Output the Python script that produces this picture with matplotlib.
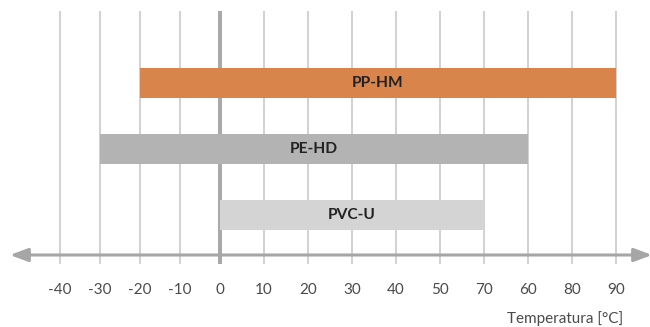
import numpy as np
import matplotlib
matplotlib.use("Agg")
import matplotlib.pyplot as plt

# Operating temperature ranges per pipe material
materials = ["PP-HM", "PE-HD", "PVC-U"]
t_min = [-20, -30, 0]
t_max = [90, 70, 60]
bar_colors = ["#D9844B", "#B3B3B3", "#D4D4D4"]

tick_values = [-40, -30, -20, -10, 0, 10, 20, 30, 40, 50, 60, 70, 80, 90]
tick_labels = ["-40", "-30", "-20", "-10", "0", "10", "20", "30", "40", "50",
               "70", "60", "80", "90"]
axis_title = "Temperatura [°C]"

W, H, DPI = 650, 327, 100
fig = plt.figure(figsize=(W / DPI, H / DPI), dpi=DPI)

# axes spans full width; vertical extent = grid line extent
ax_bottom_px, ax_top_px = 264, 11
ax_h_px = ax_bottom_px - ax_top_px
ax = fig.add_axes([0, 1 - ax_bottom_px / H, 1, ax_h_px / H])


# negative side of the scale is slightly compressed
def fwd(x):
    x = np.asarray(x, dtype=float)
    return np.where(x < 0, x * 4.0, x * 4.4)


def inv(u):
    u = np.asarray(u, dtype=float)
    return np.where(u < 0, u / 4.0, u / 4.4)


ax.set_xscale("function", functions=(fwd, inv))
ax.set_xlim(-55, 430 / 4.4)

# y: category index, spacing of 66 px between bar centres
y = np.arange(len(materials))
y_top = (ax_top_px - 83) / 66
y_bot = (ax_bottom_px - 83) / 66
ax.set_ylim(y_bot, y_top)

for v in tick_values:
    if v == 0:
        ax.axvline(v, color="#A9A9A9", lw=2.9, zorder=1)
    else:
        ax.axvline(v, color="#CACACA", lw=1.2, zorder=1)

ax.barh(y, np.array(t_max) - np.array(t_min), left=t_min, height=30 / 66,
        color=bar_colors, zorder=2)
for yi, name, lo, hi in zip(y, materials, t_min, t_max):
    xc = inv((fwd(lo) + fwd(hi)) / 2)
    ax.text(float(xc), yi, name, ha="center", va="center", fontsize=11.2,
            fontweight="bold", family="Lato", color="#222222", zorder=3)

# horizontal axis with arrowheads at both ends
y_axis = (255 - 83) / 66
ax.annotate("", xy=(float(inv(432)), y_axis), xytext=(float(inv(10 - 220)), y_axis),
            arrowprops=dict(arrowstyle="<|-|>,head_length=0.4,head_width=0.15",
                            mutation_scale=27, lw=2.2, color="#A6A6A6",
                            shrinkA=0, shrinkB=0),
            annotation_clip=False, zorder=4)

label_y = (ax_bottom_px - 290) / ax_h_px
for v, lab in zip(tick_values, tick_labels):
    ax.text(v, label_y, lab, transform=ax.get_xaxis_transform(),
            ha="center", va="center", fontsize=11, family="Lato",
            color="#4A4A4A", clip_on=False)

fig.text(623 / W, 1 - 319 / H, axis_title, ha="right", va="center",
         fontsize=11, family="Lato", color="#4A4A4A")

ax.axis("off")
fig.savefig("out.png", dpi=DPI)
